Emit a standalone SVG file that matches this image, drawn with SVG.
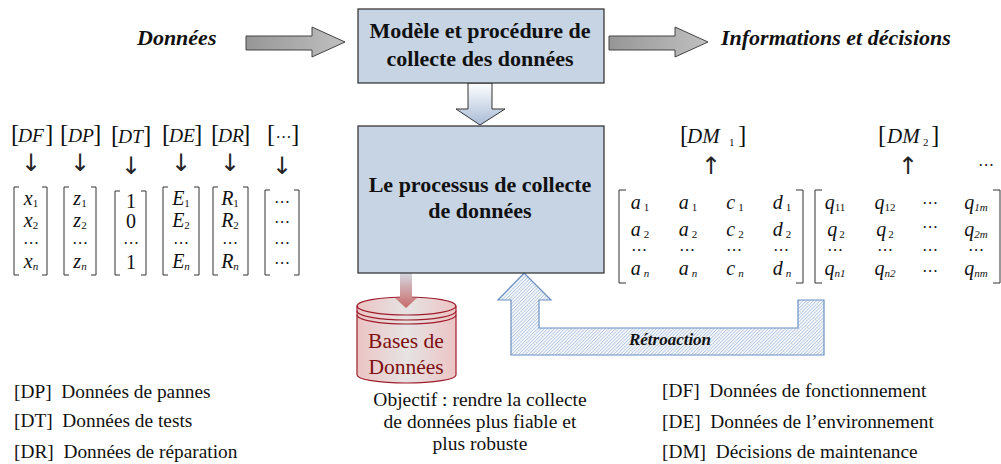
<svg xmlns="http://www.w3.org/2000/svg" width="1001" height="464" viewBox="0 0 1001 464">
<style>
text{font-family:"Liberation Serif","Times New Roman",serif;fill:#111;white-space:pre}
.box{fill:#c6d4e4;stroke:#2a2a2a;stroke-width:1.2}
.t{font-size:22px;font-weight:bold;text-anchor:middle}
.h{font-size:22px;font-weight:bold;font-style:italic}
.n{font-size:19.35px}
.c{font-size:19.5px;text-anchor:middle}
.m{font-size:20px;font-style:italic;text-anchor:middle}
.r{font-size:20px;text-anchor:middle}
.s{font-size:11px;font-style:normal}
.si{font-size:11px;font-style:italic}
.d{font-family:"DejaVu Sans",sans-serif;font-size:16px;text-anchor:middle;font-style:normal;fill:#222;opacity:.99}
.hd{font-size:19.5px;font-style:italic}
.b{font-size:25px;font-weight:normal;font-style:normal}
.ar{font-family:"DejaVu Sans",sans-serif;font-size:24px;text-anchor:middle;fill:#222;opacity:.99}
.br{fill:none;stroke:#333;stroke-width:1}
.ga{fill:url(#gray);stroke:#444;stroke-width:1}
.bd{font-size:21.5px;text-anchor:middle;fill:#7d1010}
</style>
<defs>
<linearGradient id="gray" x1="0" y1="0" x2="1" y2="0"><stop offset="0" stop-color="#969696"/><stop offset="1" stop-color="#c0c0c0"/></linearGradient>
<linearGradient id="blue" x1="0" y1="0" x2="0" y2="1"><stop offset="0" stop-color="#ffffff"/><stop offset="1" stop-color="#a9bcd6"/></linearGradient>
<linearGradient id="red" x1="0" y1="0" x2="0" y2="1"><stop offset="0" stop-color="#d4d8e0"/><stop offset="1" stop-color="#c96a6a"/></linearGradient>
<linearGradient id="cyl" x1="0" y1="0" x2="1" y2="0"><stop offset="0" stop-color="#ecc4c4"/><stop offset="0.5" stop-color="#e6e3e3"/><stop offset="1" stop-color="#ecc4c4"/></linearGradient>
<pattern id="hatch" width="2.400" height="2.400" patternUnits="userSpaceOnUse" patternTransform="rotate(45)"><rect width="2.400" height="2.400" fill="#fff"/><rect width="1" height="2.400" fill="#b3c6e0"/></pattern>
</defs>
<g id="node-bases">
<path fill="url(#cyl)" stroke="#a01c2c" stroke-width="1.2" d="M357 306A49.500 9 0 0 1 456 306V375A49.500 8 0 0 1 357 375Z"/>
<path fill="none" stroke="#a01c2c" stroke-width="1.2" d="M357 306A49.500 9 0 0 0 456 306M357 311A49.500 9 0 0 0 456 311M357 315A49.500 9 0 0 0 456 315"/>
<text class="bd" x="406" y="348">Bases de</text>
<text class="bd" x="406" y="374">Données</text>
</g>
<g id="connectors">
<path class="ga" d="M246 36H312V27L345 42 312 57V50H246Z"/>
<path class="ga" d="M609 36H675V27L708 42 675 57V50H609Z"/>
<path fill="url(#blue)" stroke="#333" d="M468 83H492V109H505L480 125 456 109H468Z"/>
<path fill="url(#red)" d="M400 273H412V298H417L406 308 395 298H400Z"/>
<path fill="url(#hatch)" stroke="#6a90c4" stroke-width="1.2" d="M524 273L551 300H539V328H798V300H824V355H511V300H498Z"/>
</g>
<g id="node-donnees"><text class="h" x="137" y="45">Données</text></g>
<g id="node-infos"><text class="h" x="721" y="45">Informations et décisions</text></g>
<g id="node-modele"><rect class="box" x="358" y="9" width="246" height="74"/>
<text class="t" x="480" y="38">Modèle et procédure de</text><text class="t" x="480" y="66">collecte des données</text></g>
<g id="node-processus"><rect class="box" x="358" y="126" width="246" height="147"/>
<text class="t" x="480" y="192">Le processus de collecte</text><text class="t" x="480" y="218">de données</text></g>
<g id="node-retroaction"><text x="670" y="345" style="font-size:17px;font-weight:bold;font-style:italic;text-anchor:middle">Rétroaction</text></g>
<g id="left-headers">
<text class="hd" y="142"><tspan class="b" x="11">[</tspan><tspan x="18">DF</tspan><tspan class="b" x="45">]</tspan></text>
<text class="hd" y="142"><tspan class="b" x="60">[</tspan><tspan x="68">DP</tspan><tspan class="b" x="93">]</tspan></text>
<text class="hd" y="143"><tspan class="b" x="111">[</tspan><tspan x="118">DT</tspan><tspan class="b" x="143">]</tspan></text>
<text class="hd" y="142"><tspan class="b" x="162">[</tspan><tspan x="169">DE</tspan><tspan class="b" x="194">]</tspan></text>
<text class="hd" y="142"><tspan class="b" x="211">[</tspan><tspan x="218">DR</tspan><tspan class="b" x="242">]</tspan></text>
<text class="hd" y="142"><tspan class="b" x="267">[</tspan><tspan class="d" x="283.500">⋯</tspan><tspan class="b" x="291">]</tspan></text>
<text class="ar" x="31" y="171">↓</text><text class="ar" x="80" y="171">↓</text><text class="ar" x="131" y="174">↓</text><text class="ar" x="181" y="171">↓</text><text class="ar" x="230" y="171">↓</text><text class="ar" x="282" y="174">↓</text>
</g>
<g id="left-matrices">
<path class="br" d="M19 187H14V275H19M42 187H47V275H42M69 187H64V275H69M91 187H96V275H91M120 191H115V275H120M141 191H146V275H141M168 187H163V275H168M194 187H199V275H194M218 187H213V275H218M243 187H248V275H243M270 190H265V275H270M294 190H299V275H294"/>
<text class="m" x="31" y="205">x<tspan class="s" dy="2">1</tspan></text><text class="m" x="31" y="227">x<tspan class="s" dy="2">2</tspan></text><text class="d" x="31" y="248">⋯</text><text class="m" x="31" y="268">x<tspan class="si" dy="2">n</tspan></text>
<text class="m" x="80" y="205">z<tspan class="s" dy="2">1</tspan></text><text class="m" x="80" y="227">z<tspan class="s" dy="2">2</tspan></text><text class="d" x="80" y="248">⋯</text><text class="m" x="80" y="268">z<tspan class="si" dy="2">n</tspan></text>
<text class="r" x="131" y="208">1</text><text class="r" x="131" y="228">0</text><text class="d" x="131" y="248">⋯</text><text class="r" x="131" y="269">1</text>
<text class="m" x="181" y="205">E<tspan class="s" dy="2">1</tspan></text><text class="m" x="181" y="227">E<tspan class="s" dy="2">2</tspan></text><text class="d" x="181" y="248">⋯</text><text class="m" x="181" y="268">E<tspan class="si" dy="2">n</tspan></text>
<text class="m" x="230" y="205">R<tspan class="s" dy="2">1</tspan></text><text class="m" x="230" y="227">R<tspan class="s" dy="2">2</tspan></text><text class="d" x="230" y="248">⋯</text><text class="m" x="230" y="268">R<tspan class="si" dy="2">n</tspan></text>
<text class="d" x="282" y="207">⋯</text><text class="d" x="282" y="227">⋯</text><text class="d" x="282" y="248">⋯</text><text class="d" x="282" y="268">⋯</text>
</g>
<g id="right-headers">
<text class="hd" y="143" style="font-size:21px"><tspan class="b" x="680">[</tspan><tspan x="687">DM</tspan><tspan class="s" x="729" dy="3">1</tspan><tspan class="b" x="738" dy="-3">]</tspan></text>
<text class="hd" y="143" style="font-size:21px"><tspan class="b" x="878">[</tspan><tspan x="887">DM</tspan><tspan class="s" x="923" dy="3">2</tspan><tspan class="b" x="931" dy="-3">]</tspan></text>
<text class="ar" x="711" y="174">↑</text><text class="ar" x="908" y="174">↑</text>
<text class="d" x="986" y="170">⋯</text>
</g>
<g id="right-matrices">
<path class="br" d="M626 190H619V283H626M796 190H803V283H796M822 190H815V283H822M993 190H1000V283H993"/>
<g id="matrix-a">
<text class="m" x="640" y="209">a<tspan class="s" dx="3" dy="2">1</tspan></text><text class="m" x="688" y="209">a<tspan class="s" dx="3" dy="2">1</tspan></text><text class="m" x="735" y="209">c<tspan class="s" dx="3" dy="2">1</tspan></text><text class="m" x="782" y="209">d<tspan class="s" dx="3" dy="2">1</tspan></text>
<text class="m" x="640" y="236">a<tspan class="s" dx="3" dy="2">2</tspan></text><text class="m" x="688" y="236">a<tspan class="s" dx="3" dy="2">2</tspan></text><text class="m" x="735" y="236">c<tspan class="s" dx="3" dy="2">2</tspan></text><text class="m" x="782" y="236">d<tspan class="s" dx="3" dy="2">2</tspan></text>
<text class="d" x="639" y="255">⋯</text><text class="d" x="687" y="255">⋯</text><text class="d" x="734" y="255">⋯</text><text class="d" x="781" y="255">⋯</text>
<text class="m" x="640" y="275">a<tspan class="si" dx="3" dy="2">n</tspan></text><text class="m" x="688" y="275">a<tspan class="si" dx="3" dy="2">n</tspan></text><text class="m" x="735" y="275">c<tspan class="si" dx="3" dy="2">n</tspan></text><text class="m" x="782" y="275">d<tspan class="si" dx="3" dy="2">n</tspan></text>
</g>
<g id="matrix-q">
<text class="m" x="835" y="209">q<tspan class="s" dy="2">11</tspan></text><text class="m" x="885" y="209">q<tspan class="s" dy="2">12</tspan></text><text class="d" x="930" y="208">⋯</text><text class="m" x="976" y="209">q<tspan class="si" dy="2">1m</tspan></text>
<text class="m" x="836" y="236">q<tspan class="s" dx="2" dy="2">2</tspan></text><text class="m" x="885" y="236">q<tspan class="s" dx="2" dy="2">2</tspan></text><text class="d" x="930" y="232">⋯</text><text class="m" x="976" y="236">q<tspan class="si" dy="2">2m</tspan></text>
<text class="d" x="835" y="255">⋯</text><text class="d" x="885" y="255">⋯</text><text class="d" x="930" y="255">⋯</text><text class="d" x="976" y="255">⋯</text>
<text class="m" x="835" y="275">q<tspan class="si" dy="2">n1</tspan></text><text class="m" x="885" y="275">q<tspan class="si" dy="2">n2</tspan></text><text class="d" x="930" y="276">⋯</text><text class="m" x="976" y="275">q<tspan class="si" dy="2">nm</tspan></text>
</g>
</g>
<g id="legend">
<text class="n" x="14" y="398">[DP]  Données de pannes</text>
<text class="n" x="14" y="427">[DT]  Données de tests</text>
<text class="n" x="14" y="458">[DR]  Données de réparation</text>
<text class="n" x="662" y="397">[DF]  Données de fonctionnement</text>
<text class="n" x="662" y="428">[DE]  Données de l’environnement</text>
<text class="n" x="662" y="458">[DM]  Décisions de maintenance</text>
<text class="c" x="480" y="406">Objectif : rendre la collecte</text>
<text class="c" x="480" y="428">de données plus fiable et</text>
<text class="c" x="480" y="450">plus robuste</text>
</g>
</svg>
